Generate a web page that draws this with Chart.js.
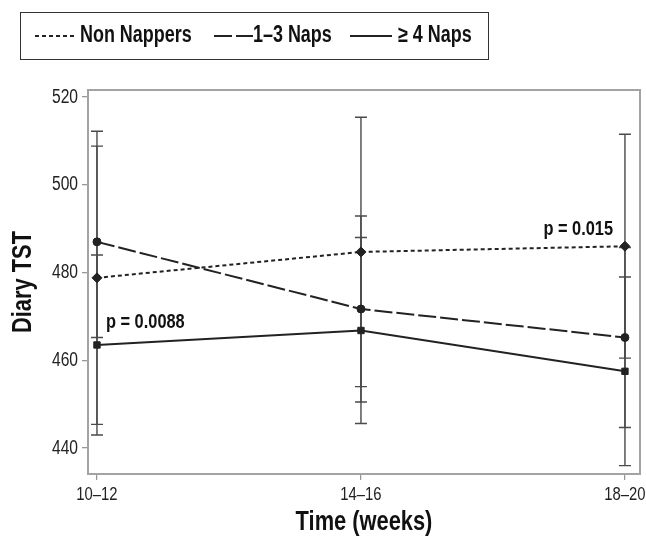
<!DOCTYPE html>
<html>
<head>
<meta charset="utf-8">
<script src="https://cdn.jsdelivr.net/npm/chart.js@4/dist/chart.umd.min.js"></script>
<style>
    body { margin: 0; background: #fff; }
    #wrap { position: relative; width: 646px; height: 538px; }
    #legend {
        position: absolute; left: 20px; top: 12px; width: 467px; height: 46px;
        border: 1px solid #333;
        font-family: "Liberation Sans", Arial, sans-serif;
        font-weight: bold; font-size: 23px; color: #111;
    }
    #legend svg { position: absolute; top: 21px; display: block; }
    #legend span {
        position: absolute; top: 8px; line-height: 26px; white-space: nowrap;
        transform: scaleX(0.78); transform-origin: left center;
    }
</style>
</head>
<body>
<div id="wrap">
    <canvas id="napChart" width="646" height="538"></canvas>
    <div id="legend"></div>
</div>
<script>
const weeks = ["10–12", "14–16", "18–20"];
const yTicks = [440, 460, 480, 500, 520];

const nonNappers = [478.8, 484.7, 486.0];
const oneToThree = [487.0, 471.7, 465.2];
const fourPlus = [463.5, 466.8, 457.5];

// half-length of each error bar
const nonNappersErr = [33.4, 30.7, 25.5];
const oneToThreeErr = [21.8, 21.2, 20.5];
const fourPlusErr = [20.5, 21.2, 21.5];

const pLabels = ["p = 0.015", "p = 0.0088"];

const FONT = '"Liberation Sans", Arial, sans-serif';
const INK = "#222";
const SQUEEZE = 0.78; // no narrow face installed, so text is squeezed sideways

const series = [
    { label: "Non Nappers", values: nonNappers, err: nonNappersErr, dash: [4, 3], point: "rectRot", radius: 5, lineX: 14, lineW: 42, textX: 59 },
    { label: "1–3 Naps", values: oneToThree, err: oneToThreeErr, dash: [18, 4], point: "circle", radius: 4, lineX: 193, lineW: 39, textX: 232 },
    { label: "≥ 4 Naps", values: fourPlus, err: fourPlusErr, dash: [], point: "rect", radius: 4.5, lineX: 329, lineW: 42, textX: 377 },
];

function toPoints(values) {
    return values.map((v, i) => ({ x: i, y: v }));
}

const canvas = document.getElementById("napChart");
const ctx = canvas.getContext("2d");
const rawFill = ctx.fillText.bind(ctx);
const rawMeasure = ctx.measureText.bind(ctx);
ctx.fillText = function (text, x, y) {
    ctx.save();
    ctx.translate(x, y);
    ctx.scale(SQUEEZE, 1);
    rawFill(text, 0, 0);
    ctx.restore();
};
ctx.measureText = function (text) {
    const m = rawMeasure(text);
    return {
        width: m.width * SQUEEZE,
        actualBoundingBoxAscent: m.actualBoundingBoxAscent,
        actualBoundingBoxDescent: m.actualBoundingBoxDescent,
        actualBoundingBoxLeft: m.actualBoundingBoxLeft * SQUEEZE,
        actualBoundingBoxRight: m.actualBoundingBoxRight * SQUEEZE,
    };
};

const errorBars = {
    id: "errorBars",
    beforeDatasetsDraw(chart) {
        const { ctx, chartArea, scales } = chart;
        ctx.save();
        ctx.strokeStyle = "#a3a3a3";
        ctx.lineWidth = 2;
        ctx.strokeRect(chartArea.left, chartArea.top, chartArea.right - chartArea.left, chartArea.bottom - chartArea.top);

        ctx.strokeStyle = "#4a4a4a";
        ctx.lineWidth = 1.4;
        series.forEach((s) => {
            s.values.forEach((v, i) => {
                const x = scales.x.getPixelForValue(i);
                const hi = scales.y.getPixelForValue(v + s.err[i]);
                const lo = scales.y.getPixelForValue(v - s.err[i]);
                ctx.beginPath();
                ctx.moveTo(x, hi);
                ctx.lineTo(x, lo);
                ctx.moveTo(x - 6, hi);
                ctx.lineTo(x + 6, hi);
                ctx.moveTo(x - 6, lo);
                ctx.lineTo(x + 6, lo);
                ctx.stroke();
            });
        });
        ctx.restore();
    },
    afterDatasetsDraw(chart) {
        const { ctx, scales } = chart;
        ctx.save();
        ctx.font = "bold 21px " + FONT;
        ctx.fillStyle = "#111";
        ctx.textBaseline = "middle";
        ctx.textAlign = "right";
        ctx.fillText(pLabels[0], scales.x.getPixelForValue(1.955), scales.y.getPixelForValue(489.9));
        ctx.textAlign = "left";
        ctx.fillText(pLabels[1], scales.x.getPixelForValue(0.034), scales.y.getPixelForValue(468.7));
        ctx.restore();
    },
};

new Chart(ctx, {
    type: "line",
    data: {
        datasets: series.map((s) => ({
            label: s.label,
            data: toPoints(s.values),
            borderColor: INK,
            backgroundColor: INK,
            borderWidth: 2,
            borderDash: s.dash,
            pointStyle: s.point,
            pointRadius: s.radius,
            pointBackgroundColor: INK,
            pointBorderColor: INK,
            pointBorderWidth: 1,
            tension: 0,
            fill: false,
        })),
    },
    plugins: [errorBars],
    options: {
        responsive: false,
        animation: false,
        layout: {
            padding: { left: 0, right: 5, top: 90, bottom: 0 },
        },
        plugins: {
            legend: { display: false },
            tooltip: { enabled: false },
        },
        scales: {
            x: {
                type: "linear",
                min: -0.034,
                max: 2.057,
                afterBuildTicks: (scale) => {
                    scale.ticks = weeks.map((w, i) => ({ value: i }));
                },
                afterFit: (scale) => {
                    scale.height = 64;
                    scale.paddingLeft = 0;
                    scale.paddingRight = 0;
                },
                ticks: {
                    callback: (value) => weeks[value],
                    color: INK,
                    font: { family: FONT, size: 19 },
                    padding: 3,
                    maxRotation: 0,
                },
                grid: {
                    drawOnChartArea: false,
                    tickLength: 6,
                    color: "#999",
                    lineWidth: 1.3,
                },
                border: { display: false },
                title: {
                    display: true,
                    text: "Time (weeks)",
                    color: "#111",
                    font: { family: FONT, size: 28, weight: "bold" },
                    padding: { top: 0, bottom: -1 },
                },
            },
            y: {
                min: 434.1,
                max: 521.6,
                afterBuildTicks: (scale) => {
                    scale.ticks = yTicks.map((v) => ({ value: v }));
                },
                afterFit: (scale) => {
                    scale.width = 88;
                },
                ticks: {
                    color: INK,
                    font: { family: FONT, size: 20 },
                    padding: 4,
                },
                grid: {
                    drawOnChartArea: false,
                    tickLength: 6,
                    color: "#999",
                    lineWidth: 1.3,
                },
                border: { display: false },
                title: {
                    display: true,
                    text: "Diary TST",
                    color: "#111",
                    font: { family: FONT, size: 28, weight: "bold" },
                    padding: { top: 6, bottom: 0 },
                },
            },
        },
    },
});

// HTML legend built from the same series styles
const legend = document.getElementById("legend");
series.forEach((s) => {
    const svgNS = "http://www.w3.org/2000/svg";
    const svg = document.createElementNS(svgNS, "svg");
    svg.setAttribute("width", s.lineW);
    svg.setAttribute("height", 4);
    svg.style.left = s.lineX + "px";
    const line = document.createElementNS(svgNS, "line");
    line.setAttribute("x1", 0);
    line.setAttribute("x2", s.lineW);
    line.setAttribute("y1", 2);
    line.setAttribute("y2", 2);
    line.setAttribute("stroke", INK);
    line.setAttribute("stroke-width", 2);
    if (s.dash.length) line.setAttribute("stroke-dasharray", s.dash.join(" "));
    svg.appendChild(line);
    legend.appendChild(svg);

    const text = document.createElement("span");
    text.textContent = s.label;
    text.style.left = s.textX + "px";
    legend.appendChild(text);
});
</script>
</body>
</html>
